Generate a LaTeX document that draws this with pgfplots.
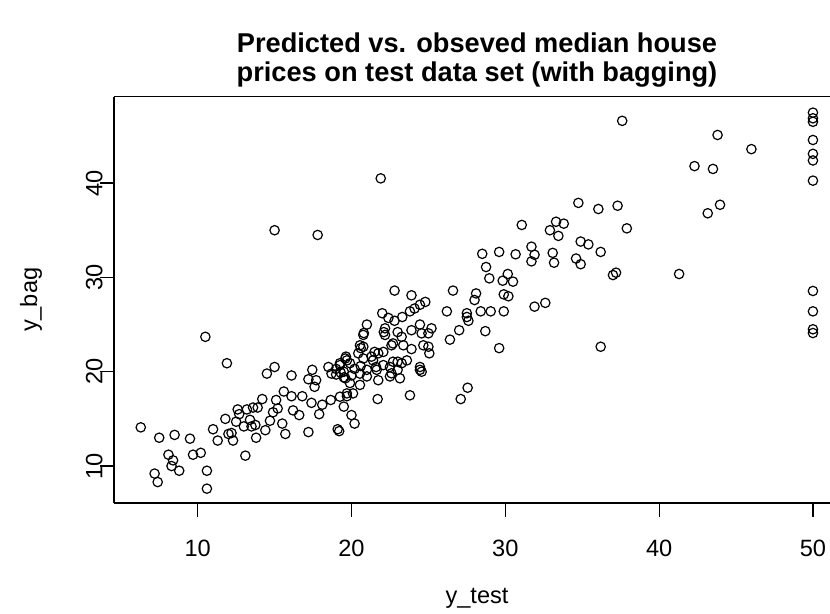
\documentclass[border=0pt]{standalone}
\usepackage{pgfplots}
\pgfplotsset{compat=1.18}
\usepackage{fontspec}
\setmainfont{Liberation Sans}
\pgfplotstableread{
x y
6.3 14.1
7.5 13.0
8.5 13.3
9.5 12.9
7.2 9.2
7.4 8.3
8.1 11.2
8.4 10.6
8.3 10.0
8.8 9.5
9.7 11.2
10.2 11.4
10.6 9.5
10.6 7.6
10.5 23.7
11.9 20.9
11.0 13.9
11.3 12.7
11.8 15.0
12.0 13.4
12.2 13.5
12.3 12.7
12.5 14.7
12.6 16.0
12.7 15.5
13.0 14.2
13.1 11.1
13.2 16.0
13.4 14.9
13.5 14.2
13.6 16.2
13.8 13.0
13.75 14.35
13.9 16.2
14.2 17.1
14.4 13.8
14.5 19.8
15.0 20.5
14.7 14.8
14.9 15.7
15.1 17.0
15.2 16.1
15.5 14.5
15.7 13.4
15.6 17.9
16.1 19.6
16.2 15.9
16.1 17.4
16.6 15.4
16.8 17.4
17.2 13.6
17.2 19.2
17.4 16.7
17.45 20.2
17.6 18.4
17.7 19.1
17.9 15.5
18.1 16.5
18.5 20.5
18.65 17.0
19.1 13.9
19.2 13.7
19.25 20.7
19.5 16.3
19.6 21.4
19.0 19.7
19.5 19.4
19.7 17.4
15.0 35.0
17.8 34.5
21.9 40.5
19.25 17.35
20.1 17.7
18.7 19.8
19.9 20.9
20.55 18.6
22.8 28.6
23.9 28.1
24.8 27.4
24.45 27.1
26.6 28.6
28.1 28.3
28.0 27.6
29.9 28.2
30.2 28.0
31.9 26.9
32.6 27.3
26.2 26.4
27.5 26.2
27.5 25.8
28.4 26.4
29.05 26.4
29.9 26.4
27.0 24.4
26.4 23.4
28.7 24.3
29.6 22.5
27.55 18.3
27.1 17.1
23.8 17.5
21.7 17.1
20.2 14.5
20.0 15.4
22.0 26.2
23.3 25.8
23.8 26.4
21.0 25.0
20.8 24.1
22.1 24.2
23.0 24.2
23.9 24.4
24.45 25.0
25.2 24.6
25.0 22.65
25.06 21.95
24.45 20.5
24.45 20.2
23.9 22.4
23.6 21.2
23.0 21.06
23.0 20.2
22.6 22.8
22.07 22.1
21.74 21.95
21.3 21.6
20.55 22.8
20.44 21.95
19.7 21.2
19.6 19.3
20.55 19.8
21.0 19.5
21.74 19.1
22.5 19.5
23.15 19.3
22.5 20.5
21.6 20.5
19.9 18.8
19.7 17.7
20.6 22.5
19.64 21.6
19.25 20.9
28.5 32.5
28.75 31.1
28.96 29.9
24.1 26.7
22.4 25.7
22.8 25.4
22.18 24.6
22.18 23.9
23.26 23.7
24.56 24.07
25.0 24.07
20.77 23.9
22.7 23.0
23.37 22.8
24.67 22.8
20.77 22.65
21.5 22.1
20.77 21.4
21.4 21.2
22.7 21.06
23.26 20.9
24.56 20.0
21.0 20.2
21.64 20.2
22.07 20.7
22.6 19.83
27.6 25.4
19.0 20.3
19.5 20.0
20.2 20.3
20.0 19.6
19.3 19.9
20.6 20.6
37.6 46.6
43.8 45.1
46.0 43.6
42.3 41.8
43.5 41.5
34.75 37.9
36.05 37.25
37.3 37.6
37.9 35.2
43.16 36.8
43.96 37.7
33.3 35.9
33.8 35.7
32.9 35.0
33.45 34.4
34.9 33.8
35.4 33.5
36.2 32.7
33.08 32.6
33.17 31.56
34.6 32.0
34.9 31.4
37.0 30.25
37.2 30.5
41.3 30.36
31.7 33.26
31.9 32.4
31.7 31.7
31.07 35.56
29.6 32.7
30.67 32.45
30.16 30.36
29.83 29.65
30.5 29.55
36.2 22.65
50 47.47
50 46.87
50 46.5
50 44.57
50 43.1
50 42.4
50 40.26
50 28.56
50 26.4
50 24.5
50 24.1
}\bagdata
\begin{document}
\begin{tikzpicture}
\begin{axis}[
  at={(0,0)}, anchor=south west,
  scale only axis, width=358pt, height=203.15pt,
  xmin=4.56, xmax=51.11, ymin=6.08, ymax=49.16,
  axis x line=box, axis y line=left,
  axis line style={-, line width=0.6pt, black},
  xtick={10,20,30,40,50}, ytick={10,20,30,40},
  xtick pos=bottom, ytick pos=left,
  tick align=outside, major tick length=7pt,
  tick style={line width=0.6pt, black},
  /pgf/number format/assume math mode=true,
  tick label style={font=\fontsize{11.8}{13}\selectfont, inner sep=0pt},
  xticklabel style={anchor=north},
  xticklabel shift=11.5pt,
  yticklabel style={rotate=90, anchor=south},
  yticklabel shift=-1.5pt,
  title={Predicted vs. obseved median house\\prices on test data set (with bagging)},
  title style={at={(axis description cs:0.507,1.0313)}, anchor=south, inner sep=0pt, yshift=-8pt, align=center, font=\bfseries\fontsize{13.6}{14.5}\selectfont},
  xlabel={y\_test},
  xlabel style={at={(axis description cs:0.507,-0.2338)}, anchor=center, inner sep=0pt, font=\fontsize{11.8}{13}\selectfont},
  ylabel={y\_bag},
  ylabel style={at={(axis description cs:-0.1159,0.5)}, anchor=center, inner sep=0pt, font=\fontsize{11.8}{13}\selectfont},
]
\addplot[only marks, mark=o, mark size=2.35pt, mark options={line width=0.6pt, black}] table[x=x,y=y] {\bagdata};
\end{axis}
\pgfresetboundingbox
\useasboundingbox (-57pt,-55.5pt) rectangle (358pt,251.5pt);
\end{tikzpicture}
\end{document}
